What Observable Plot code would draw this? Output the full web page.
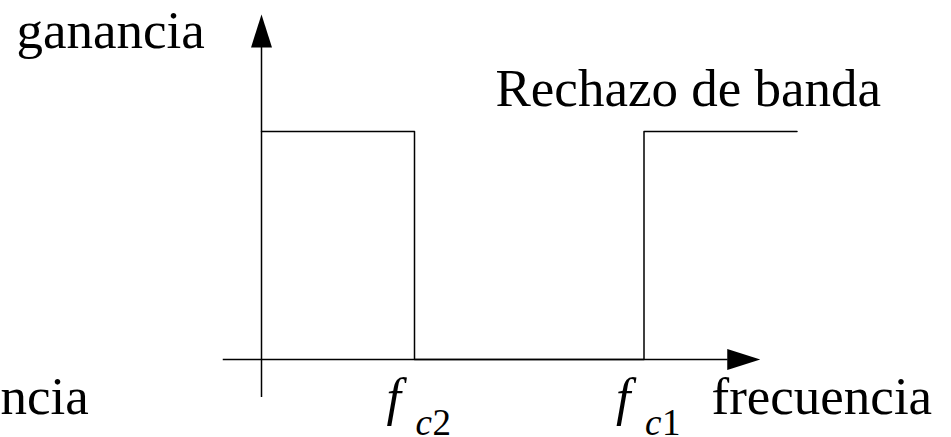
<!DOCTYPE html>
<html>
<head>
<meta charset="utf-8">
<script src="https://cdn.jsdelivr.net/npm/d3@7"></script>
<script src="https://cdn.jsdelivr.net/npm/@observablehq/plot@0.6"></script>
<style>
  html, body { margin: 0; padding: 0; background: #fff; }
  #chart svg { display: block; }
</style>
</head>
<body>
<div id="chart"></div>
<script>
// Band-reject (Rechazo de banda) ideal response, schematic
const freqs = [0, 2, 2, 5, 5, 7];        // frequency (arbitrary units)
const gains = [1, 1, 0, 0, 1, 1];        // gain
const tickFreqs = [2, 5];                // f_c2, f_c1
const tickSub = ["c", "c"];
const tickIdx = ["2", "1"];
const titleText = "Rechazo de banda";
const yLabel = "ganancia";
const xLabel = "frecuencia";
const cutLabel = "ncia";

const response = freqs.map((f, i) => ({f, g: gains[i]}));
const ticks = tickFreqs.map((f, i) => ({f, sub: tickSub[i], idx: tickIdx[i]}));

const font = "'Liberation Serif', 'Times New Roman', serif";

// filled narrow triangle arrow head, tip at origin, pointing up
const arrowHead = {
  draw(ctx) {
    ctx.moveTo(0, 0);
    ctx.lineTo(-10.5, 33);
    ctx.lineTo(10.5, 33);
    ctx.closePath();
  }
};

const chart = Plot.plot({
  width: 951,
  height: 437,
  margin: 0,
  style: {background: "#fff", overflow: "visible"},
  x: {domain: [0, 2], range: [261, 414], axis: null},
  y: {domain: [0, 1], range: [359, 131], axis: null},
  marks: [
    // axes
    Plot.ruleX([0], {y1: -0.167, y2: 1.37, stroke: "#000", strokeWidth: 1.5}),
    Plot.ruleY([0], {x1: -0.5, x2: 6.1, stroke: "#000", strokeWidth: 1.5}),
    Plot.dot([0], {x: 0, y: 1.513, symbol: arrowHead, fill: "#000", stroke: "none", r: 10}),
    Plot.dot([0], {x: 6.52, y: 0, symbol: arrowHead, rotate: 90, fill: "#000", stroke: "none", r: 10}),
    // response
    Plot.line(response, {x: "f", y: "g", stroke: "#000", strokeWidth: 1.5, curve: "linear"}),
    // tick labels f_c2, f_c1
    Plot.text(ticks, {x: "f", frameAnchor: "bottom", text: () => "f", textAnchor: "start", lineAnchor: "bottom",
      dx: -28, dy: -23, fontSize: 52, fontStyle: "italic", fontFamily: font, fill: "#000"}),
    Plot.text(ticks, {x: "f", frameAnchor: "bottom", text: "sub", textAnchor: "start", lineAnchor: "bottom",
      dx: 1, dy: -3, fontSize: 37, fontStyle: "italic", fontFamily: font, fill: "#000"}),
    Plot.text(ticks, {x: "f", frameAnchor: "bottom", text: "idx", textAnchor: "start", lineAnchor: "bottom",
      dx: 18, dy: -3, fontSize: 37, fontFamily: font, fill: "#000"}),
    // labels
    Plot.text([yLabel], {frameAnchor: "top-left", text: d => d, textAnchor: "start", lineAnchor: "bottom",
      dx: 16, dy: 47, fontSize: 53, fontFamily: font, fill: "#000"}),
    Plot.text([titleText], {frameAnchor: "top-left", text: d => d, textAnchor: "start", lineAnchor: "bottom",
      dx: 495, dy: 105, fontSize: 53, fontFamily: font, fill: "#000"}),
    Plot.text([xLabel], {frameAnchor: "top-left", text: d => d, textAnchor: "start", lineAnchor: "bottom",
      dx: 711, dy: 413, fontSize: 53, fontFamily: font, fill: "#000"}),
    Plot.text([cutLabel], {frameAnchor: "top-left", text: d => d, textAnchor: "start", lineAnchor: "bottom",
      dx: 0, dy: 413, fontSize: 53, fontFamily: font, fill: "#000"})
  ]
});

document.getElementById("chart").appendChild(chart);
</script>
</body>
</html>
